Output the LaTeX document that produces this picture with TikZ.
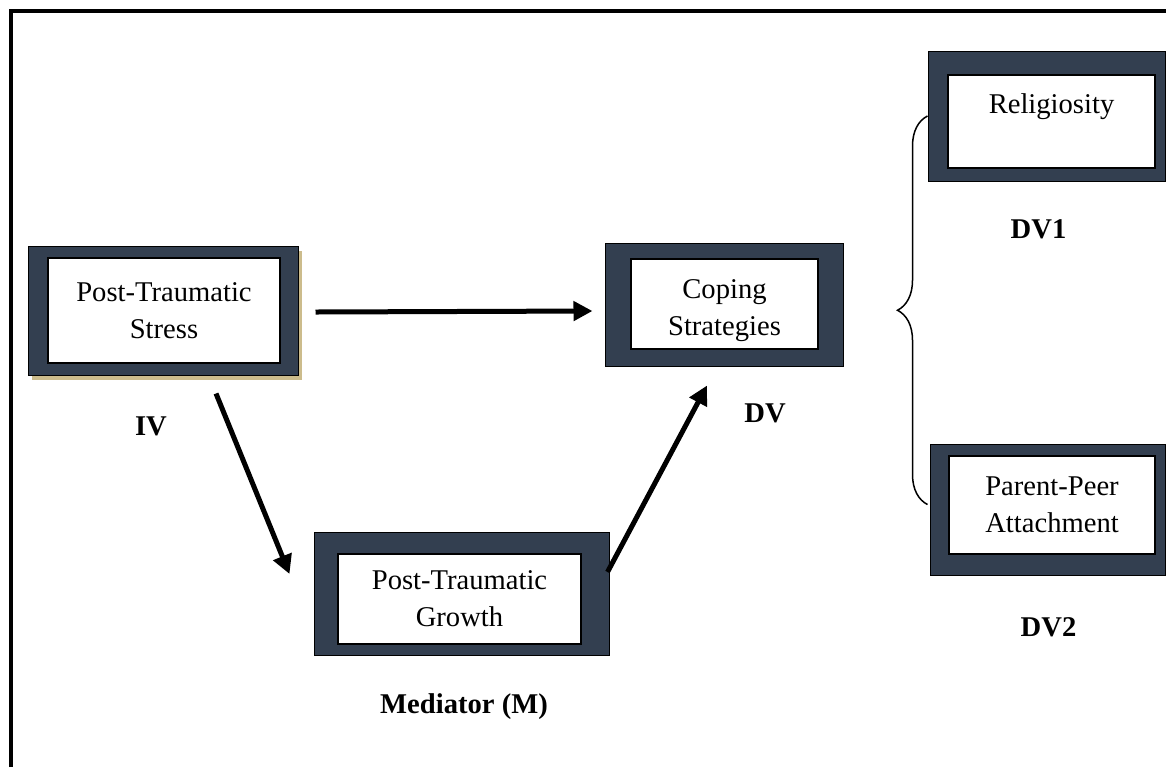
\documentclass[tikz,border=0pt]{standalone}
\usepackage{fontspec}
\setmainfont{Liberation Serif}
\usepackage{tikz}
\usetikzlibrary{arrows.meta, calc, shadows, decorations.pathreplacing}

\definecolor{navy}{RGB}{51,63,80}
\definecolor{tanshade}{RGB}{204,188,140}

\begin{document}
\begin{tikzpicture}[
    x=0.5pt, y=-0.5pt,
    font=\fontsize{14.3}{18.5}\selectfont,
    outbox/.style={draw=black, line width=0.5pt, fill=navy, inner sep=0pt},
    inbox/.style={draw=black, line width=1.2pt, fill=white, align=center, inner sep=0pt},
    txt/.style={align=center, inner sep=0pt},
    lbl/.style={font=\fontsize{14.3}{18.5}\selectfont\bfseries, inner sep=0pt},
    arr/.style={-{Triangle[length=9.5pt, width=9.5pt]}, line width=2.5pt}
]
\useasboundingbox (0,0) rectangle (1166,767);

% frame
\draw[line width=2.25pt] (11,767) -- (11,11) -- (1166,11);

% boxes
\node[outbox, minimum width=135pt, minimum height=64.5pt,
      drop shadow={fill=tanshade, opacity=1, shadow xshift=2pt, shadow yshift=-2.5pt}]
      (pts) at (163,310.5) {};
\node[inbox, minimum width=116pt, minimum height=52.5pt] (ptsin) at (164,310.5) {Post-Traumatic\\Stress};

\node[outbox, minimum width=119pt, minimum height=61.5pt] (cope) at (724,304.5) {};
\node[inbox, minimum width=93.5pt, minimum height=45pt] (copein) at (724.5,304) {};
\node[txt] (copetxt) at (724.5,310.5) {Coping\\Strategies};

\node[outbox, minimum width=147.5pt, minimum height=61.5pt] (ptg) at (461.5,593.5) {};
\node[inbox, minimum width=121.5pt, minimum height=45pt] (ptgin) at (459.5,599) {Post-Traumatic\\Growth};

\node[outbox, minimum width=118.5pt, minimum height=65pt] (relig) at (1046.5,116) {};
\node[inbox, minimum width=103.5pt, minimum height=46.5pt] (religin) at (1051.5,121.5) {};
\node[txt] (religtxt) at (1051.5,127.5) {Religiosity\\\strut};

\node[outbox, minimum width=117.5pt, minimum height=65.5pt] (pp) at (1047.5,509.5) {};
\node[inbox, minimum width=103pt, minimum height=49pt] (ppin) at (1052,505) {Parent-Peer\\Attachment};

% labels
\node[lbl] (iv) at (151,426) {IV};
\node[lbl] (dv) at (765,413) {DV};
\node[lbl] (dv1) at (1038.5,229) {DV1};
\node[lbl] (dv2) at (1048.5,627.5) {DV2};
\node[lbl] (med) at (464,707) {Mediator (M)};

% paths
\draw[arr] ([shift={(17,1.5)}]pts.east) -- ([shift={(-12,6.5)}]cope.west);
\draw[arr] ([shift={(53,18)}]pts.south) -- ([shift={(-24,-19.5)}]ptg.west);
\draw[arr] ([shift={(-2,-21.5)}]ptg.east) -- ([shift={(-17,19)}]cope.south);

% brace
\draw[line width=0.75pt, decorate, decoration={brace, amplitude=15pt}]
    ($(relig.west |- pp.west)+(0,-5)$) -- (relig.west);

\end{tikzpicture}
\end{document}
